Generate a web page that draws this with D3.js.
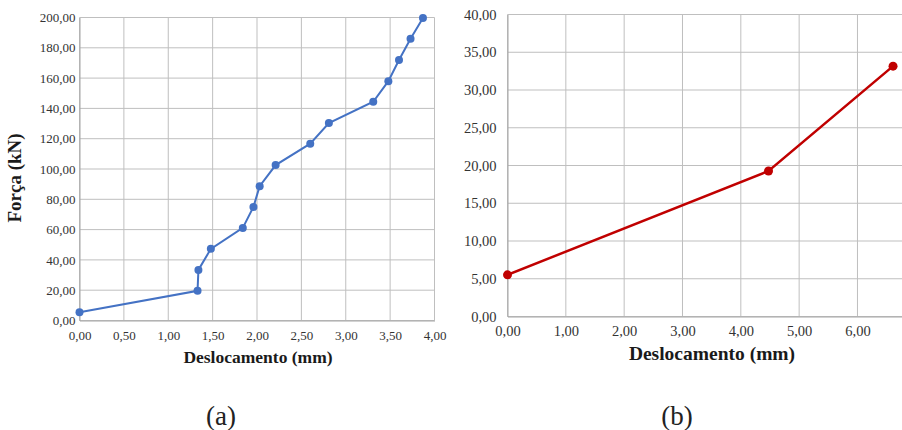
<!DOCTYPE html>
<html>
<head>
<meta charset="utf-8">
<script src="https://cdn.jsdelivr.net/npm/d3@7"></script>
<style>
  body{margin:0;background:#fff;}
  svg text{font-family:"Times New Roman",Times,"Liberation Serif",serif;}
</style>
</head>
<body>
<svg id="chart" width="902" height="430"></svg>
<script>
// chart (a)
var dispA = [0.00, 1.33, 1.34, 1.48, 1.84, 1.96, 2.03, 2.21, 2.60, 2.81, 3.31, 3.48, 3.60, 3.73, 3.87];
var forceA = [5.5, 19.6, 33.4, 47.3, 61.1, 75.0, 88.6, 102.6, 116.7, 130.3, 144.4, 158.0, 171.9, 185.9, 199.7];
var xTicksA = [0, 0.5, 1, 1.5, 2, 2.5, 3, 3.5, 4];
var yTicksA = [0, 20, 40, 60, 80, 100, 120, 140, 160, 180, 200];
// chart (b)
var dispB = [0.00, 4.475, 6.61];
var forceB = [5.52, 19.27, 33.16];
var xTicksB = [0, 1, 2, 3, 4, 5, 6, 7];
var yTicksB = [0, 5, 10, 15, 20, 25, 30, 35, 40];

var fmt = function(d){ return d3.format(".2f")(d).replace(".", ","); };
var serif = "'Times New Roman', Times, 'Liberation Serif', serif";
var svg = d3.select("#chart");

function drawPanel(o){
    var x = d3.scaleLinear().domain(o.xDom).range([o.left, o.right]);
    var y = d3.scaleLinear().domain(o.yDom).range([o.bottom, o.top]);
    var g = svg.append("g");

    // grid
    g.append("g").selectAll("line").data(o.xTicks).join("line")
        .attr("x1", function(d){return x(d);}).attr("x2", function(d){return x(d);})
        .attr("y1", o.top).attr("y2", o.bottom)
        .attr("stroke", "#bfbfbf").attr("stroke-width", 1);
    g.append("g").selectAll("line").data(o.yTicks).join("line")
        .attr("x1", o.left).attr("x2", x(o.xDom[1]))
        .attr("y1", function(d){return y(d);}).attr("y2", function(d){return y(d);})
        .attr("stroke", "#bfbfbf").attr("stroke-width", 1);

    // axes (x labels only where they fit in the picture)
    var xLab = o.xTicks.filter(function(d){return x(d) < 890;});
    var ax = g.append("g").attr("transform", "translate(0," + o.bottom + ")")
        .call(d3.axisBottom(x).tickValues(xLab).tickFormat(fmt).tickSize(0).tickPadding(o.xPad));
    var ay = g.append("g").attr("transform", "translate(" + o.left + ",0)")
        .call(d3.axisLeft(y).tickValues(o.yTicks).tickFormat(fmt).tickSize(0).tickPadding(o.yPad));
    [ax, ay].forEach(function(a){
        a.attr("font-family", serif);
        a.select(".domain").attr("stroke", "#a6a6a6");
        a.selectAll("text").attr("font-size", o.fs).attr("fill", "#333");
    });

    // series
    var line = d3.line().x(function(d){return x(d[0]);}).y(function(d){return y(d[1]);});
    var pts = d3.zip(o.xs, o.ys);
    g.append("path").attr("d", line(pts)).attr("fill", "none")
        .attr("stroke", o.color).attr("stroke-width", o.lw);
    g.append("g").selectAll("circle").data(pts).join("circle")
        .attr("cx", function(d){return x(d[0]);}).attr("cy", function(d){return y(d[1]);})
        .attr("r", o.r).attr("fill", o.color);

    // x title
    g.append("text").attr("x", o.titleX).attr("y", o.titleY)
        .attr("text-anchor", "middle").attr("font-size", o.tfs).attr("font-weight", "bold")
        .attr("font-family", serif).attr("fill", "#1a1a1a").text("Deslocamento (mm)");
}

drawPanel({
    xDom:[0,4], yDom:[0,200], left:79.5, right:434.5, top:17.5, bottom:320.5,
    xTicks:xTicksA, yTicks:yTicksA, xs:dispA, ys:forceA, fs:13, tfs:17.5,
    color:"#4472c4", lw:2, r:4, xPad:10, yPad:4, titleX:258, titleY:363
});
drawPanel({
    xDom:[0,7], yDom:[0,40], left:507.5, right:915.8, top:14.5, bottom:316.5,
    xTicks:xTicksB, yTicks:yTicksB, xs:dispB, ys:forceB, fs:14.5, tfs:19.5,
    color:"#c00000", lw:2.5, r:4.5, xPad:9, yPad:11, titleX:712, titleY:360
});

// y title (a)
svg.append("text").attr("transform", "translate(21,178) rotate(-90)")
    .attr("text-anchor", "middle").attr("font-size", 19).attr("font-weight", "bold")
    .attr("font-family", serif).attr("fill", "#1a1a1a").text("Força (kN)");

// panel labels
svg.selectAll("text.panel").data(["(a)", "(b)"]).join("text").attr("class", "panel")
    .attr("x", function(d,i){return i === 0 ? 221 : 677;}).attr("y", 425)
    .attr("text-anchor", "middle").attr("font-size", 27).attr("font-family", serif)
    .attr("fill", "#222").text(function(d){return d;});
</script>
</body>
</html>
